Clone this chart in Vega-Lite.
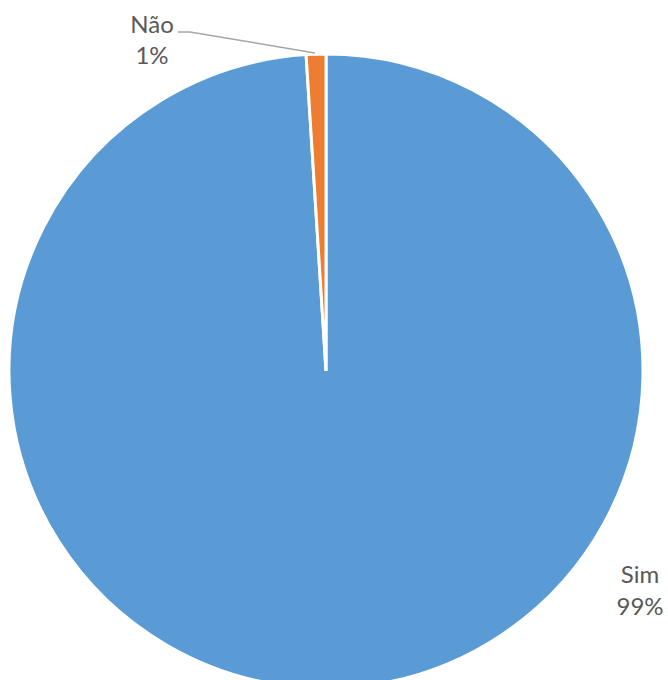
{
  "$schema": "https://vega.github.io/schema/vega-lite/v6.json",
  "width": 668,
  "height": 680,
  "autosize": "none",
  "padding": 0,
  "background": "white",
  "config": {"view": {"stroke": null}},
  "params": [
    {"name": "cx", "expr": "width/2 - 8"},
    {"name": "cy", "expr": "height/2 + 31"}
  ],
  "data": {"values": [
    {"cat": "Sim", "value": 99, "order": 1},
    {"cat": "Não", "value": 1, "order": 2}
  ]},
  "layer": [
    {
      "mark": {"type": "arc", "outerRadius": 317, "stroke": "white", "strokeWidth": 3, "x": {"expr": "cx"}, "y": {"expr": "cy"}},
      "encoding": {
        "theta": {"field": "value", "type": "quantitative", "stack": true},
        "order": {"field": "order", "type": "quantitative"},
        "color": {"field": "cat", "type": "nominal", "scale": {"domain": ["Sim", "Não"], "range": ["#5B9BD5", "#ED7D31"]}, "legend": null}
      }
    },
    {
      "transform": [{"filter": "datum.cat == 'Não'"}],
      "mark": {"type": "rule", "stroke": "#A6A6A6", "strokeWidth": 1.5},
      "encoding": {
        "x": {"value": {"expr": "cx - 148"}},
        "y": {"value": {"expr": "cy - 339"}},
        "x2": {"value": {"expr": "cx - 136"}},
        "y2": {"value": {"expr": "cy - 339"}}
      }
    },
    {
      "transform": [{"filter": "datum.cat == 'Não'"}],
      "mark": {"type": "rule", "stroke": "#A6A6A6", "strokeWidth": 1.5},
      "encoding": {
        "x": {"value": {"expr": "cx - 136"}},
        "y": {"value": {"expr": "cy - 339"}},
        "x2": {"value": {"expr": "cx - 11"}},
        "y2": {"value": {"expr": "cy - 318"}}
      }
    },
    {
      "transform": [
        {"filter": "datum.cat == 'Não'"},
        {"calculate": "datum.cat + '\\n' + datum.value + '%'", "as": "label"}
      ],
      "mark": {"type": "text", "font": "Lato", "fontSize": 24, "fill": "#595959", "align": "center", "baseline": "alphabetic", "lineBreak": "\n", "lineHeight": 31, "x": {"expr": "cx - 174"}, "y": {"expr": "cy - 338"}},
      "encoding": {"text": {"field": "label"}}
    },
    {
      "transform": [
        {"filter": "datum.cat == 'Sim'"},
        {"calculate": "datum.cat + '\\n' + datum.value + '%'", "as": "label"}
      ],
      "mark": {"type": "text", "font": "Lato", "fontSize": 24, "fill": "#595959", "align": "center", "baseline": "alphabetic", "lineBreak": "\n", "lineHeight": 32, "x": {"expr": "cx + 314"}, "y": {"expr": "cy + 212"}},
      "encoding": {"text": {"field": "label"}}
    }
  ]
}
